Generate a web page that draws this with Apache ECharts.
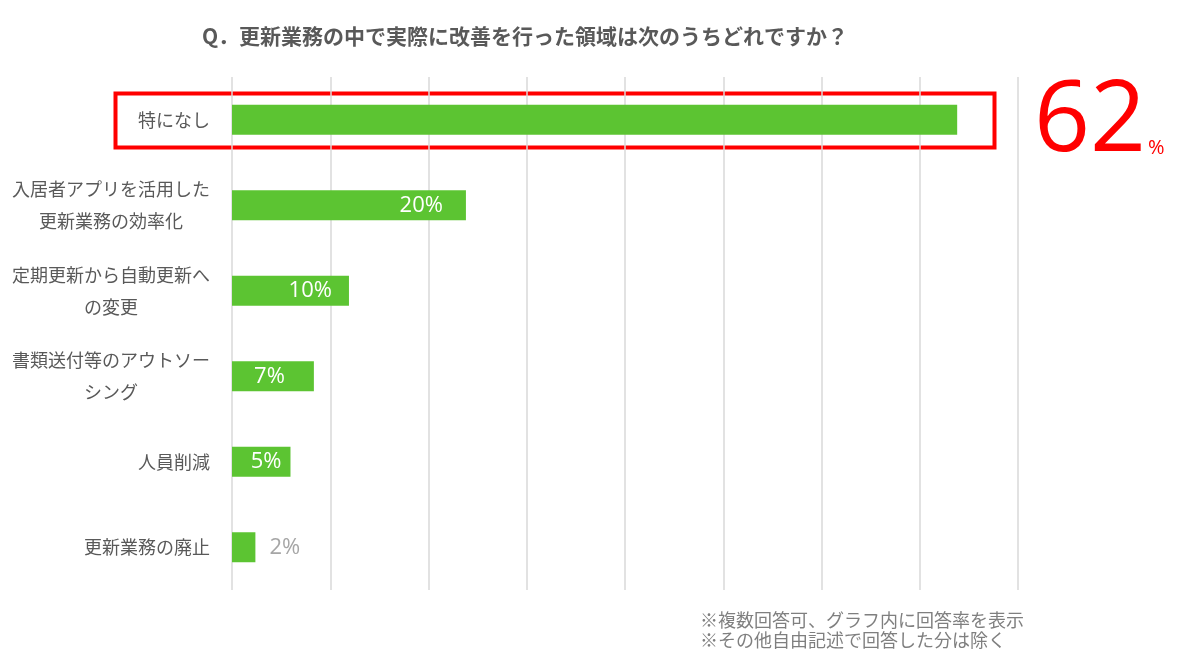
<!DOCTYPE html>
<html><head><meta charset="utf-8">
<script src="https://cdn.jsdelivr.net/npm/echarts@6/dist/echarts.min.js"></script>
<style>html,body{margin:0;padding:0;background:#fff}#c{width:1200px;height:666px}</style>
</head><body><div id="c"></div>
<script>
const titleText = 'Q．更新業務の中で実際に改善を行った領域は次のうちどれですか？';
const categories = ['特になし', '入居者アプリを活用した\n更新業務の効率化', '定期更新から自動更新へ\nの変更', '書類送付等のアウトソー\nシング', '人員削減', '更新業務の廃止'];
const values = [62, 20, 10, 7, 5, 2];
const highlightText = '62';
const notes = ['※複数回答可、グラフ内に回答率を表示', '※その他自由記述で回答した分は除く'];

const FONT = '"Noto Sans CJK JP", "Noto Sans", sans-serif';
const GREEN = '#5CC432';
const labelDistances = [0, 23, 17, 29, 9, 14];
const chart = echarts.init(document.getElementById('c'));

const barData = values.map((v, i) => {
  const d = { value: v, label: { distance: labelDistances[i] } };
  if (i === 0) d.label = { show: false };
  else if (v < 4) d.label = { position: 'right', distance: labelDistances[i], color: '#a6a6a6' };
  return d;
});

chart.setOption({
  animation: false,
  textStyle: { fontFamily: FONT },
  title: {
    text: titleText, left: 520, top: 21, textAlign: 'center',
    textStyle: { fontFamily: FONT, fontSize: 21, fontWeight: 'bold', color: '#595959' }
  },
  grid: { left: 232, right: 182, top: 77, bottom: 76, containLabel: false },
  xAxis: {
    type: 'value', min: 0, max: 67.2, interval: 8.4,
    axisLabel: { show: false }, axisTick: { show: false }, axisLine: { show: false },
    splitLine: { show: true, lineStyle: { color: '#d9d9d9', width: 1.5 } }
  },
  yAxis: {
    type: 'category', data: categories, inverse: true,
    axisLine: { show: false }, axisTick: { show: false },
    axisLabel: {
      margin: 22, color: '#595959', fontSize: 18, fontFamily: FONT,
      formatter: (v) => v.indexOf('\n') >= 0 ? v.split('\n').map(s => '{m|' + s + '}').join('\n') : v,
      rich: { m: { width: 198, align: 'center', fontSize: 18, lineHeight: 32, color: '#595959', fontFamily: FONT } }
    }
  },
  series: [{
    type: 'bar', data: barData, barWidth: 30,
    itemStyle: { color: GREEN },
    label: {
      show: true, position: 'insideRight', distance: 18,
      formatter: '{c}%', color: '#ffffff', fontSize: 22, fontFamily: '"Open Sans", sans-serif'
    }
  }],
  graphic: [
    { type: 'rect', left: 113, top: 91, shape: { width: 879, height: 54 },
      style: { fill: 'none', stroke: '#ff0000', lineWidth: 4 } },
    { type: 'text', left: 1034, top: 74,
      style: { text: '{a|' + highlightText + '}{b|%}',
        rich: { a: { fontSize: 98, fill: '#ff0000', fontFamily: '"Open Sans", sans-serif', verticalAlign: 'bottom' },
                b: { fontSize: 20, fill: '#ff0000', fontFamily: '"Open Sans", sans-serif', verticalAlign: 'bottom', padding: [0,0,14,2] } } } },
    { type: 'text', left: 700, top: 610,
      style: { text: notes.join('\n'), fontSize: 18, lineHeight: 20, fill: '#7f7f7f', fontFamily: FONT } }
  ]
});
</script></body></html>
